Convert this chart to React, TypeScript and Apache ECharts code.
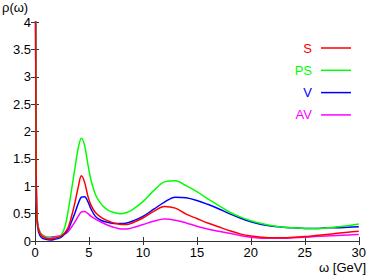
import React, { useEffect, useRef } from "react";
import * as echarts from "echarts";

const omega = [0.02, 0.05, 0.1, 0.15, 0.25, 0.45, 0.7, 1.0, 1.4, 1.8, 2.2, 2.5, 2.8, 3.1, 3.4, 3.7, 4.0, 4.3, 4.6, 4.9, 5.2, 5.6, 6.0, 6.5, 7.0, 7.5, 8.0, 8.5, 9, 10, 11, 12, 13, 14, 15, 16, 17, 18, 19, 20, 21, 22, 23, 24, 25, 26, 27, 28, 29, 30];

const sS = [10, 4.6, 1.6, 0.62, 0.28, 0.14, 0.08, 0.05, 0.04, 0.05, 0.07, 0.1, 0.16, 0.26, 0.46, 0.7, 0.98, 1.19, 1.07, 0.82, 0.65, 0.52, 0.45, 0.39, 0.35, 0.32, 0.3, 0.3, 0.33, 0.42, 0.54, 0.63, 0.6, 0.49, 0.41, 0.33, 0.26, 0.19, 0.13, 0.09, 0.07, 0.06, 0.06, 0.07, 0.08, 0.1, 0.12, 0.14, 0.16, 0.18];
const sPS = [10, 4.6, 1.6, 0.65, 0.3, 0.16, 0.1, 0.07, 0.06, 0.06, 0.07, 0.13, 0.28, 0.58, 0.95, 1.33, 1.69, 1.875, 1.74, 1.4, 1.1, 0.85, 0.71, 0.6, 0.54, 0.51, 0.5, 0.52, 0.57, 0.72, 0.92, 1.08, 1.1, 1.01, 0.9, 0.77, 0.65, 0.53, 0.44, 0.37, 0.32, 0.28, 0.25, 0.24, 0.23, 0.23, 0.24, 0.26, 0.28, 0.31];
const sV = [10, 4.6, 1.6, 0.6, 0.25, 0.1, 0.05, 0.03, 0.02, 0.03, 0.05, 0.08, 0.14, 0.22, 0.36, 0.51, 0.68, 0.8, 0.81, 0.72, 0.58, 0.45, 0.39, 0.35, 0.33, 0.32, 0.32, 0.33, 0.36, 0.45, 0.58, 0.71, 0.8, 0.79, 0.74, 0.67, 0.59, 0.5, 0.42, 0.35, 0.3, 0.27, 0.25, 0.24, 0.23, 0.23, 0.24, 0.24, 0.25, 0.26];
const sAV = [10, 4.6, 1.6, 0.66, 0.32, 0.17, 0.11, 0.08, 0.07, 0.08, 0.09, 0.11, 0.13, 0.18, 0.26, 0.35, 0.45, 0.53, 0.54, 0.5, 0.45, 0.4, 0.36, 0.31, 0.27, 0.24, 0.22, 0.22, 0.24, 0.3, 0.36, 0.4, 0.38, 0.33, 0.27, 0.22, 0.18, 0.14, 0.1, 0.07, 0.05, 0.05, 0.05, 0.06, 0.07, 0.08, 0.09, 0.1, 0.11, 0.12];

const seriesNames = ["S", "PS", "V", "AV"];
const seriesColors = ["#ff0000", "#00ff00", "#0000ff", "#ff00ff"];
const seriesValues = [sS, sPS, sV, sAV];

const FONT = "'Liberation Sans', Arial, Helvetica, sans-serif";

export default function App() {
  const ref = useRef<HTMLDivElement>(null);
  useEffect(() => {
    if (!ref.current) return;
    const chart = echarts.init(ref.current, null, { renderer: "svg" });
    const axisLine = { show: true, lineStyle: { color: "#333", width: 1 } };
    const axisTickIn = { show: true, inside: true, length: 4, lineStyle: { color: "#333" } };
    chart.setOption({
      animation: false,
      backgroundColor: "#fff",
      textStyle: { fontFamily: FONT },
      grid: { left: 35, right: 8, top: 22, bottom: 36, containLabel: false },
      legend: {
        orient: "vertical",
        right: 13,
        top: 36,
        align: "right",
        icon: "rect",
        itemWidth: 30,
        itemHeight: 1.5,
        itemGap: 8.3,
        textStyle: { fontSize: 13, lineHeight: 14, fontFamily: FONT, padding: [0, 4, 0, 0] },
        data: seriesNames.map((n, i) => ({ name: n, textStyle: { color: seriesColors[i] } })),
      },
      xAxis: [
        {
          type: "value", min: 0, max: 30, interval: 5, position: "bottom",
          axisLine, axisTick: axisTickIn, splitLine: { show: false },
          axisLabel: { color: "#000", fontSize: 13, margin: 5, fontFamily: FONT },
        },
        {
          type: "value", min: 0, max: 30, interval: 5, position: "top",
          axisLine, axisTick: axisTickIn, splitLine: { show: false },
          axisLabel: { show: false },
        },
      ],
      yAxis: [
        {
          type: "value", min: 0, max: 4, interval: 0.5, position: "left",
          axisLine, axisTick: axisTickIn, splitLine: { show: false },
          axisLabel: { color: "#000", fontSize: 13, margin: 4, fontFamily: FONT },
        },
        {
          type: "value", min: 0, max: 4, interval: 0.5, position: "right",
          axisLine, axisTick: axisTickIn, splitLine: { show: false },
          axisLabel: { show: false },
        },
      ],
      graphic: [
        { type: "text", left: 2, top: 1, style: { text: "ρ(ω)", fontSize: 13, fontFamily: FONT, fill: "#000" } },
        { type: "text", right: 3, top: 261, style: { text: "ω [GeV]", fontSize: 13, fontFamily: FONT, fill: "#000" } },
      ],
      series: seriesNames.map((n, i) => ({
        name: n,
        type: "line",
        data: omega.map((w, j) => [w, seriesValues[i][j]]),
        smooth: 0.35,
        showSymbol: false,
        symbol: "none",
        clip: true,
        color: seriesColors[i],
        lineStyle: { color: seriesColors[i], width: 1.5 },
        z: 2 + (3 - i),
      })),
    });
    return () => chart.dispose();
  }, []);
  return <div ref={ref} style={{ width: 369, height: 277, position: "fixed", left: 0, top: 0 }} />;
}
